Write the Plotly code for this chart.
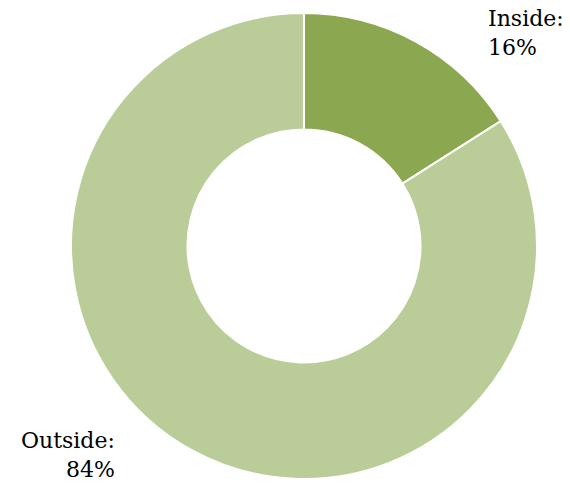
import plotly.graph_objects as go

labels = ["Inside", "Outside"]
values = [16, 84]
colors = ["#8BA74F", "#BACD98"]

W, H = 570, 484
fig = go.Figure(go.Pie(
    labels=labels, values=values, hole=0.5, sort=False, direction="clockwise",
    rotation=0, textinfo="none", hoverinfo="label+percent",
    marker=dict(colors=colors, line=dict(color="white", width=2)),
    domain=dict(x=[71 / W, 537 / W], y=[1 - 479 / H, 1 - 13 / H]),
    showlegend=False,
))

font = dict(family="DejaVu Serif", size=22, color="black")
fig.add_annotation(x=486 / W, y=1 - 4 / H, xref="paper", yref="paper", xanchor="left", yanchor="top",
                   text=f"{labels[0]}:<br>{values[0]}%", align="left", showarrow=False, font=font)
fig.add_annotation(x=117 / W, y=0, xref="paper", yref="paper", xanchor="right", yanchor="bottom",
                   text=f"{labels[1]}:<br>{values[1]}%", align="right", showarrow=False, font=font)

fig.update_layout(width=W, height=H, margin=dict(l=0, r=0, t=0, b=0),
                  paper_bgcolor="white", plot_bgcolor="white")
fig.write_html("out.html")
